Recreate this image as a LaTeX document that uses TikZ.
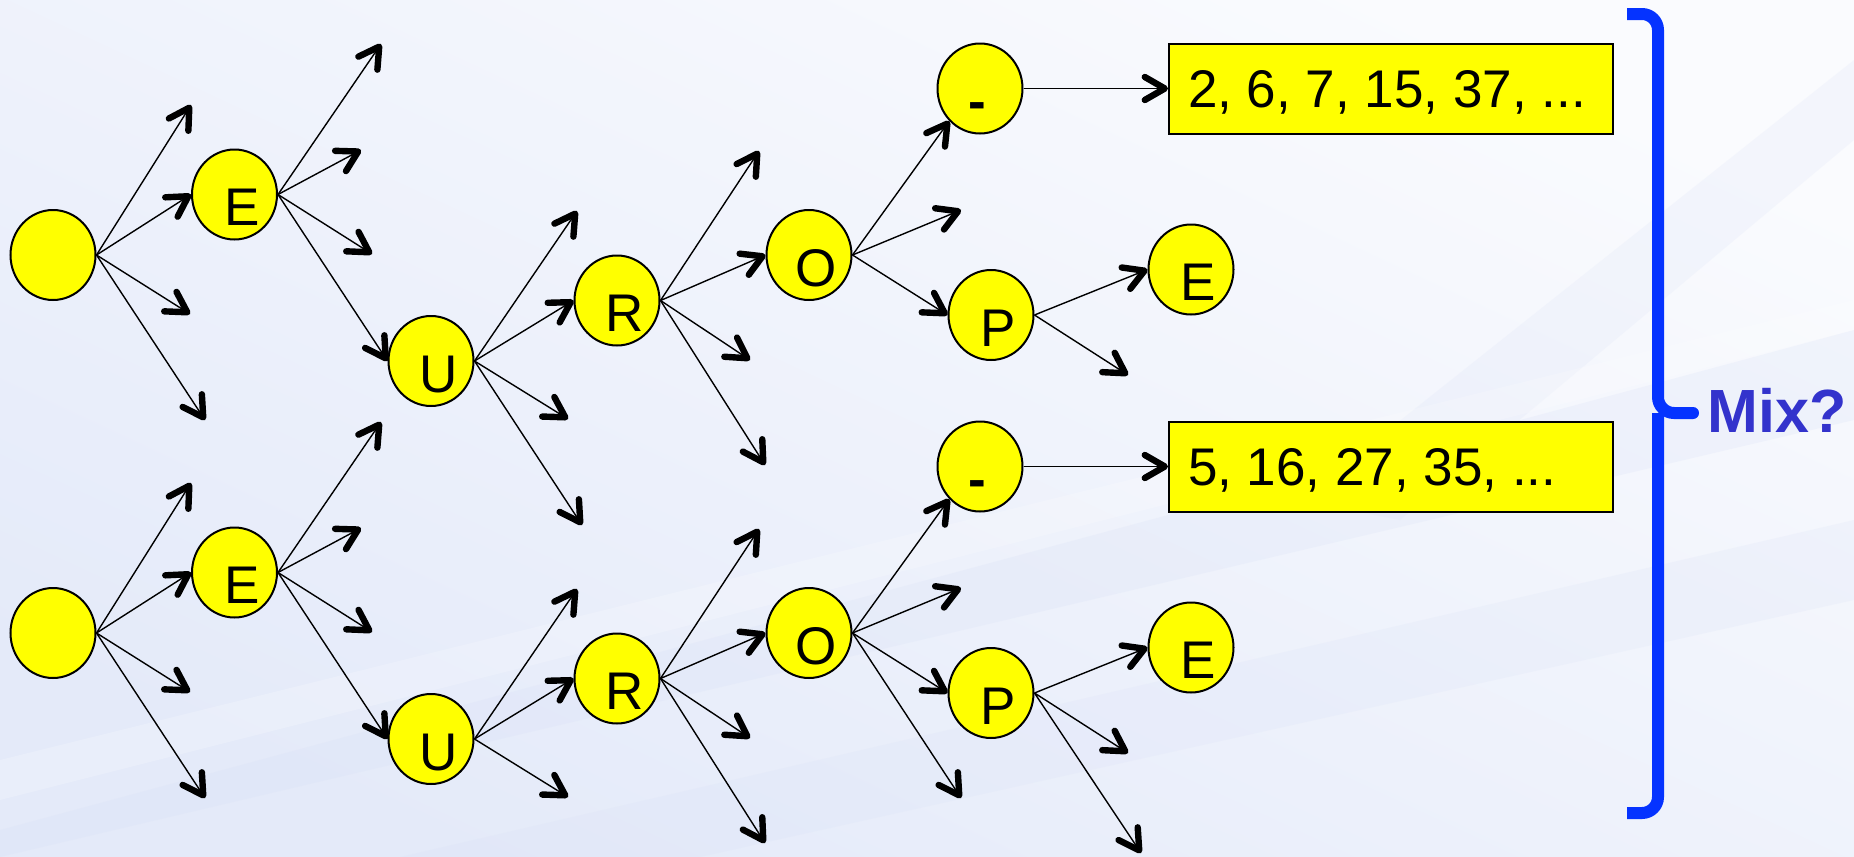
\documentclass[tikz,border=0pt]{standalone}
\usepackage{fontspec}
\setmainfont{Liberation Sans}
\usetikzlibrary{arrows.meta,shapes.geometric}
\definecolor{ylw}{RGB}{255,255,0}
\definecolor{brkblue}{RGB}{5,51,255}
\definecolor{mixblue}{RGB}{51,51,204}
\definecolor{bgtop}{RGB}{250,251,254}
\definecolor{bgbot}{RGB}{228,234,249}
\definecolor{streak}{RGB}{214,222,246}
\newcommand{\ltr}[2][7.5]{\makebox[0pt]{\hspace*{#1pt}\raisebox{-15.6pt}[0pt][0pt]{#2}}}
\begin{document}
\begin{tikzpicture}[x=0.5pt,y=-0.5pt,
  circ/.style={ellipse, draw=black, line width=1pt, fill=ylw, minimum width=42.5pt,
    minimum height=45pt, inner sep=0pt, font=\fontsize{26.5}{30}\selectfont},
  numbox/.style={rectangle, draw=black, line width=1pt, fill=ylw, inner xsep=9.5pt,
    inner ysep=0pt, minimum height=45pt, text height=19pt, text depth=0pt,
    font=\fontsize{26.5}{30}\selectfont},
  arr/.style={line width=0.7pt, -{Straight Barb[length=10pt,width=11.5pt,line width=3.2pt 0 1,round]}},
  brk/.style={draw=brkblue, line width=6pt, rounded corners=8pt},
]
% background
\useasboundingbox (0,0) rectangle (1854,857);
\shade[top color=bgtop, bottom color=bgbot, shading angle=-25] (0,0) rectangle (1854,857);
\fill[streak, opacity=0.22] (0,830) -- (1854,330) -- (1854,420) -- (0,857) -- cycle;
\fill[streak, opacity=0.18] (400,857) -- (1854,520) -- (1854,600) -- (700,857) -- cycle;
\fill[streak, opacity=0.18] (1300,500) -- (1854,60) -- (1854,140) -- (1400,520) -- cycle;
\fill[white, opacity=0.2] (0,760) -- (1854,300) -- (1854,330) -- (0,800) -- cycle;

% ---------- top tree ----------
\node[circ] (root1) at (53,255) {};
\node[circ] (e1) at (234.5,194.5) {\ltr{E}};
\node[circ] (u1) at (431,361) {\ltr{U}};
\node[circ] (r1) at (617,300.5) {\ltr{R}};
\node[circ] (o1) at (809,255) {\ltr{O}};
\node[circ] (d1) at (980,88.5) {\ltr[-2.5]{\bfseries -}};
\node[circ] (p1) at (991,315) {\ltr{P}};
\node[circ] (ee1) at (1191,269.5) {\ltr{E}};
\node[numbox] (box1) at (1391,88.5) {\makebox[203pt][l]{2, 6, 7, 15, 37, ...}};

% ---------- bottom tree ----------
\node[circ] (root2) at (53,633) {};
\node[circ] (e2) at (234.5,572.5) {\ltr{E}};
\node[circ] (u2) at (431,739) {\ltr{U}};
\node[circ] (r2) at (617,678.5) {\ltr{R}};
\node[circ] (o2) at (809,633) {\ltr{O}};
\node[circ] (d2) at (980,466.5) {\ltr[-2.5]{\bfseries -}};
\node[circ] (p2) at (991,693) {\ltr{P}};
\node[circ] (ee2) at (1191,647.5) {\ltr{E}};
\node[numbox] (box2) at (1391,466.5) {\makebox[203pt][l]{5, 16, 27, 35, ...}};

% free arrow ends, top
\coordinate (ta1) at (191,105);
\coordinate (ta2) at (190,314);
\coordinate (ta3) at (205,420);
\coordinate (tb1) at (381,44);
\coordinate (tb2) at (361,150);
\coordinate (tb3) at (372,254);
\coordinate (tc1) at (577,211);
\coordinate (tc2) at (568,419);
\coordinate (tc3) at (582,525);
\coordinate (td1) at (759,151);
\coordinate (td2) at (750,360);
\coordinate (td3) at (765,465);
\coordinate (te1) at (961,210);
\coordinate (tf1) at (1128,375);
% free arrow ends, bottom
\coordinate (ba1) at (191,483);
\coordinate (ba2) at (190,692);
\coordinate (ba3) at (205,798);
\coordinate (bb1) at (381,422);
\coordinate (bb2) at (361,528);
\coordinate (bb3) at (372,632);
\coordinate (bc1) at (577,589);
\coordinate (bc2) at (568,797);
\coordinate (bd1) at (759,529);
\coordinate (bd2) at (750,738);
\coordinate (bd3) at (765,843);
\coordinate (be1) at (961,588);
\coordinate (be2) at (961,798);
\coordinate (bf1) at (1128,753);
\coordinate (bf2) at (1141,853);

% arrows, top
\draw[arr] (root1.east) -- (ta1);
\draw[arr] (root1.east) -- (e1.west);
\draw[arr] (root1.east) -- (ta2);
\draw[arr] (root1.east) -- (ta3);
\draw[arr] (e1.east) -- (tb1);
\draw[arr] (e1.east) -- (tb2);
\draw[arr] (e1.east) -- (tb3);
\draw[arr] (e1.east) -- (u1.west);
\draw[arr] (u1.east) -- (tc1);
\draw[arr] (u1.east) -- (r1.west);
\draw[arr] (u1.east) -- (tc2);
\draw[arr] (u1.east) -- (tc3);
\draw[arr] (r1.east) -- (td1);
\draw[arr] (r1.east) -- (o1.west);
\draw[arr] (r1.east) -- (td2);
\draw[arr] (r1.east) -- (td3);
\draw[arr] (o1.east) -- (d1.south west);
\draw[arr] (o1.east) -- (te1);
\draw[arr] (o1.east) -- (p1.west);
\draw[arr] (d1.east) -- (box1.west);
\draw[arr] (p1.east) -- (ee1.west);
\draw[arr] (p1.east) -- (tf1);

% arrows, bottom
\draw[arr] (root2.east) -- (ba1);
\draw[arr] (root2.east) -- (e2.west);
\draw[arr] (root2.east) -- (ba2);
\draw[arr] (root2.east) -- (ba3);
\draw[arr] (e2.east) -- (bb1);
\draw[arr] (e2.east) -- (bb2);
\draw[arr] (e2.east) -- (bb3);
\draw[arr] (e2.east) -- (u2.west);
\draw[arr] (u2.east) -- (bc1);
\draw[arr] (u2.east) -- (r2.west);
\draw[arr] (u2.east) -- (bc2);
\draw[arr] (r2.east) -- (bd1);
\draw[arr] (r2.east) -- (o2.west);
\draw[arr] (r2.east) -- (bd2);
\draw[arr] (r2.east) -- (bd3);
\draw[arr] (o2.east) -- (d2.south west);
\draw[arr] (o2.east) -- (be1);
\draw[arr] (o2.east) -- (p2.west);
\draw[arr] (o2.east) -- (be2);
\draw[arr] (d2.east) -- (box2.west);
\draw[arr] (p2.east) -- (ee2.west);
\draw[arr] (p2.east) -- (bf1);
\draw[arr] (p2.east) -- (bf2);

% bracket
\draw[brk] (1627,14) -- (1658,14) -- (1658,413) -- (1693,413);
\draw[brk] (1658,413) -- (1658,813) -- (1627,813);
\fill[brkblue] (1693,413) circle (3pt);
\node[anchor=base west, inner sep=0pt, text=mixblue, font=\bfseries\fontsize{30.5}{34}\selectfont] (mix) at (1707,432) {Mix?};
\end{tikzpicture}
\end{document}
